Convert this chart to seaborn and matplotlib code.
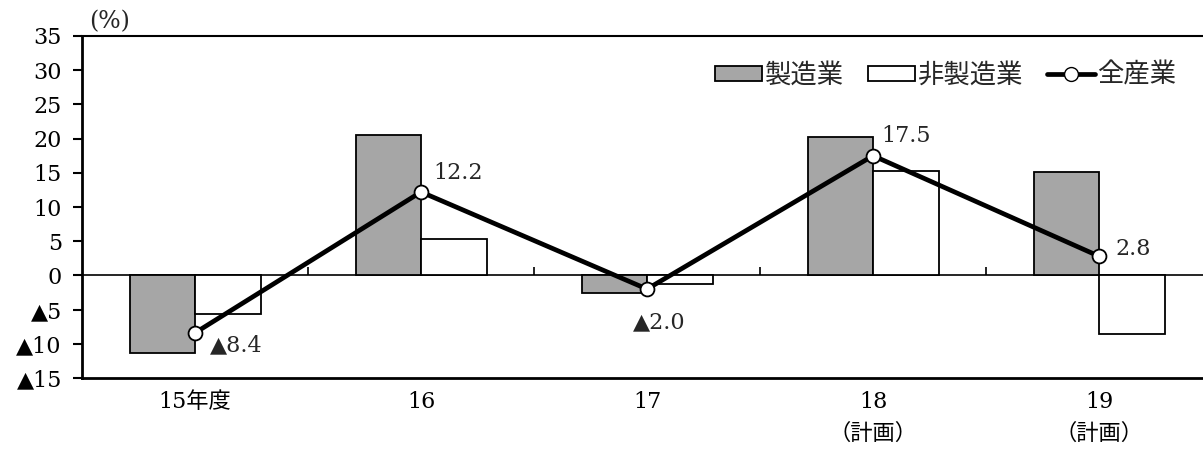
import matplotlib
matplotlib.use("Agg")
import matplotlib.pyplot as plt
import seaborn as sns
import numpy as np
import pandas as pd
from matplotlib.patches import Patch
from matplotlib.lines import Line2D
from matplotlib.ticker import FuncFormatter

years = ["15年度", "16", "17", "18\n（計画）", "19\n（計画）"]
manufacturing = [-11.3, 20.5, -2.5, 20.2, 15.1]
non_manufacturing = [-5.7, 5.3, -1.3, 15.3, -8.5]
all_industries = [-8.4, 12.2, -2.0, 17.5, 2.8]
series_names = ["製造業", "非製造業", "全産業"]

sns.set_theme(style="white")
plt.rcParams['font.family'] = ['DejaVu Serif', 'Noto Sans CJK JP']
fs = 16

df = pd.DataFrame({
    "year": years * 2,
    "value": manufacturing + non_manufacturing,
    "series": [series_names[0]] * len(years) + [series_names[1]] * len(years),
})

fig = plt.figure(figsize=(12.03, 4.5), dpi=100)
ax = fig.add_axes([0.0682, 0.16, 0.9318, 0.76])

gray = "#a6a6a6"
sns.barplot(data=df, x="year", y="value", hue="series",
            palette=[gray, "white"], edgecolor="black", linewidth=1.3,
            width=0.58, saturation=1, legend=False, ax=ax, zorder=2)

ax.axhline(0, color="black", lw=1.2, zorder=1)
n = len(years)
ax.vlines(np.arange(1, n) - 0.5, 0, 1.2, color="black", lw=1.2, zorder=1)

sns.lineplot(x=np.arange(n), y=all_industries, color="black", lw=3.4,
             marker="o", markersize=10, markerfacecolor="white",
             markeredgecolor="black", markeredgewidth=1.3, ax=ax, zorder=4)

# label offsets in points
offsets = [(11, -9, "left"), (9, 14, "left"), (9, -24, "center"),
           (6, 14, "left"), (12, 5, "left")]
for i, v in enumerate(all_industries):
    txt = f"▲{abs(v):.1f}" if v < 0 else f"{v:.1f}"
    dx, dy, ha = offsets[i]
    ax.annotate(txt, (i, v), xytext=(dx, dy), textcoords="offset points",
                ha=ha, va="center", fontsize=fs, zorder=5)

ax.set_ylim(-15, 35)
ax.set_xlim(-0.5, 4.46)
ax.set_yticks(np.arange(-15, 36, 5))
ax.yaxis.set_major_formatter(FuncFormatter(
    lambda v, p: f"▲{int(-v)}" if v < 0 else f"{int(v)}"))
ax.tick_params(axis="y", length=6.5, width=1.5, direction="out", left=True,
               labelsize=fs, pad=8, colors="black")
ax.tick_params(axis="x", length=0, labelsize=fs, pad=9, colors="black")
for lab in ax.get_xticklabels():
    lab.set_linespacing(1.6)
ax.set_xlabel("")
ax.set_ylabel("")

for s in ["left", "bottom"]:
    ax.spines[s].set_linewidth(2)
    ax.spines[s].set_color("black")
ax.spines["top"].set_linewidth(1.5)
ax.spines["top"].set_color("black")
ax.spines["right"].set_visible(False)

ax.text(0.006, 1.008, "(%)", transform=ax.transAxes, ha="left", va="bottom",
        fontsize=17)

handles = [
    Patch(facecolor=gray, edgecolor="black", linewidth=1.3),
    Patch(facecolor="white", edgecolor="black", linewidth=1.3),
    Line2D([], [], color="black", lw=3.4, marker="o", markersize=10,
           markerfacecolor="white", markeredgecolor="black"),
]
ax.legend(handles, series_names, loc="center right",
          bbox_to_anchor=(0.988, 0.886), ncol=3, frameon=False,
          handlelength=1.8, handleheight=0.5, handletextpad=0.1,
          columnspacing=0.9, borderpad=0, prop={"size": 19})

fig.savefig("out.png", dpi=100)
